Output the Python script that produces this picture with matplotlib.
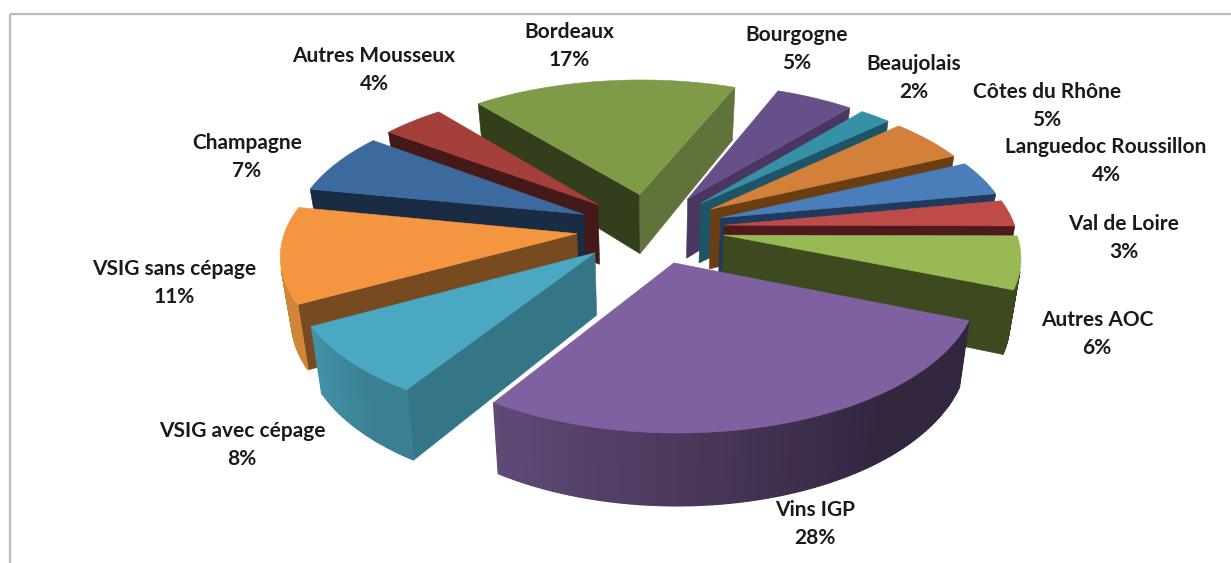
import numpy as np
import matplotlib
matplotlib.use('Agg')
import matplotlib.pyplot as plt
from matplotlib.patches import Polygon, Rectangle
from matplotlib.colors import to_rgb

categories = ['Bordeaux', 'Bourgogne', 'Beaujolais', 'Côtes du Rhône', 'Languedoc Roussillon', 'Val de Loire',
              'Autres AOC', 'Vins IGP', 'VSIG avec cépage', 'VSIG sans cépage', 'Champagne', 'Autres Mousseux']
values = [17, 5, 2, 5, 4, 3, 6, 28, 8, 11, 7, 4]

top_colors = ['#7F9B48', '#67508A', '#3590A8', '#D2803A', '#4A7EBB', '#BE4B48',
              '#98B954', '#7F60A0', '#4AA8C2', '#F4963F', '#3D6A9E', '#A43F3C']
start_cut = ['#333E1C', '#4A3760', '#1E5566', '#6B3E12', '#1F3A5C', '#4F1A1C',
             '#3D4A20', '#3A2A4C', '#347686', '#784A20', '#1A2C44', '#45181A']
end_cut = ['#60733A', '#4A3760', '#1E5566', '#6B3E12', '#1F3A5C', '#4F1A1C',
           '#3D4A20', '#3A2A4C', '#347686', '#784A20', '#1A2C44', '#45181A']
outer_a = ['#60733A', '#4A3760', '#1E5566', '#8C5524', '#1F3A5C', '#4F1A1C',
           '#3D4A20', '#33263F', '#3B8092', '#D08638', '#2C4C72', '#6E2A28']
outer_b = ['#60733A', '#4A3760', '#1E5566', '#8C5524', '#1F3A5C', '#4F1A1C',
           '#3D4A20', '#5F4A76', '#4192A8', '#D08638', '#2C4C72', '#6E2A28']
label_pos = [(569, 32), (797, 35), (914, 64), (1047, 92), (1106, 147), (1124, 224),
             (1097, 320), (815, 510), (242, 431), (174, 269), (247, 143), (374, 56)]

CX, CY, RX, RY, K, EXPL, A0 = 650.6, 228.3, 291.1, 137.9, 0.131, 0.255, -39.3
H0, KH, SHRINK = 61.0, 0.13, 0.03

fig = plt.figure(figsize=(12.31, 5.63), dpi=100)
ax = fig.add_axes([0, 0, 1, 1])
ax.set_xlim(0, 1231)
ax.set_ylim(563, 0)
ax.axis('off')
ax.add_patch(Rectangle((9.5, 14), 1240, 600, fill=False, ec='#BDBDBD', lw=1.6))


def proj(u, v, down):
    s = 1 / (1 - K * v)
    if down:
        return (CX + RX * u * s * (1 - SHRINK), CY + RY * v * s + H0 / (1 - KH * v))
    return (CX + RX * u * s, CY + RY * v * s)


def area(poly):
    x, y = np.array(poly).T
    return 0.5 * np.sum(x * np.roll(y, -1) - np.roll(x, -1) * y)


def quad(a, b):
    return [proj(*a, False), proj(*b, False), proj(*b, True), proj(*a, True)]


cum = np.concatenate([[0], np.cumsum(values)])
slices = []
for i in range(len(values)):
    a1 = np.radians(A0 + 3.6 * cum[i])
    a2 = np.radians(A0 + 3.6 * cum[i + 1])
    m = (a1 + a2) / 2
    ou, ov = EXPL * np.sin(m), -EXPL * np.cos(m)
    ang = np.linspace(a1, a2, max(int(values[i] * 7), 8))
    arc = [(ou + np.sin(t), ov - np.cos(t)) for t in ang]
    slices.append((ov, i, (ou, ov), arc))

for order, i, apex, arc in sorted(slices, key=lambda s: s[0]):
    z = 3 + order
    for a, b, col in ((apex, arc[0], start_cut[i]), (arc[-1], apex, end_cut[i])):
        q = quad(a, b)
        if area(q) < 0:
            ax.add_patch(Polygon(q, closed=True, fc=col, ec=col, lw=0.4, zorder=z))
    ca, cb = np.array(to_rgb(outer_a[i])), np.array(to_rgb(outer_b[i]))
    n = len(arc) - 1
    for j in range(n):
        q = quad(arc[j], arc[j + 1])
        if area(q) < 0:
            t = max(0.0, (j / max(n - 1, 1) - 0.3) / 0.7)
            c = ca + (cb - ca) * t
            ax.add_patch(Polygon(q, closed=True, fc=c, ec=c, lw=1.0, zorder=z))
    top = [proj(*apex, False)] + [proj(*p, False) for p in arc]
    ax.add_patch(Polygon(top, closed=True, fc=top_colors[i], ec=top_colors[i], lw=0.4, zorder=z))

for name, val, (x, y) in zip(categories, values, label_pos):
    ax.text(x, y, name, ha='center', va='center', fontsize=15, family='Lato', weight='bold', color='#1a1a1a', zorder=20)
    ax.text(x, y + 28, f'{val}%', ha='center', va='center', fontsize=15, family='Lato', weight='bold', color='#1a1a1a', zorder=20)

fig.savefig('out.png', dpi=100)
